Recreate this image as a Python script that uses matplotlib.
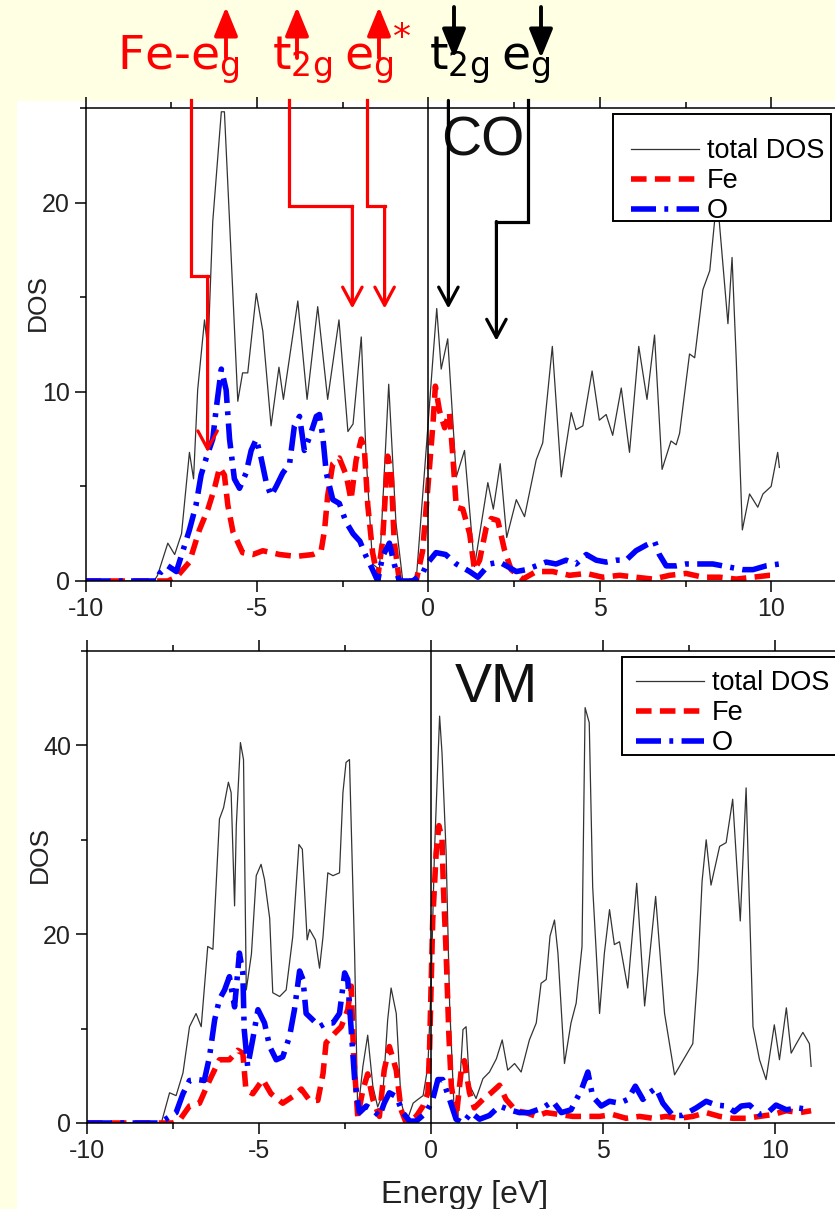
import matplotlib
matplotlib.use("Agg")
import matplotlib.pyplot as plt
from matplotlib.patches import Rectangle, FancyArrowPatch
from matplotlib.ticker import MultipleLocator

plt.rcParams["axes.unicode_minus"] = False

# ---- data: CO panel (energy in eV, DOS) ----
co_tot_e = [-10, -8.0, -7.9, -7.6, -7.4, -7.2, -6.97, -6.85, -6.73, -6.53, -6.43, -6.29, -6.04, -5.95,
            -5.8, -5.56, -5.42, -5.27, -5.02, -4.83, -4.59, -4.36, -4.23, -3.81, -3.54, -3.23, -2.94,
            -2.61, -2.35, -2.2, -1.96, -1.82, -1.63, -1.43, -1.16, -0.95, -0.75, -0.36, -0.07, 0.13,
            0.24, 0.37, 0.56, 0.81, 1.05, 1.34, 1.73, 1.89, 2.09, 2.28, 2.56, 2.8, 3.14, 3.33, 3.61,
            3.87, 4.16, 4.3, 4.5, 4.77, 4.98, 5.18, 5.37, 5.62, 5.86, 6.13, 6.37, 6.59, 6.81, 7.07,
            7.22, 7.32, 7.61, 7.76, 8.0, 8.2, 8.34, 8.44, 8.73, 8.85, 8.97, 9.15, 9.36, 9.6, 9.75,
            9.99, 10.18, 10.23]
co_tot = [0, 0, 0.3, 2.0, 1.4, 2.5, 6.8, 5.4, 10.1, 13.8, 12.2, 19.0, 24.8, 24.8,
          19.0, 9.5, 11.0, 11.0, 15.2, 13.2, 8.2, 11.3, 9.6, 14.8, 9.6, 14.5, 9.6,
          13.8, 7.9, 8.3, 12.9, 6.6, 0.9, 0.6, 10.4, 3.1, 0, 0, 6.9, 11.8,
          14.4, 11.2, 12.8, 5.5, 6.9, 0.76, 5.2, 3.8, 6.2, 2.3, 4.3, 3.4, 6.4, 7.3, 12.4,
          5.5, 8.9, 8.0, 8.2, 11.1, 8.5, 8.8, 7.7, 10.2, 6.8, 12.4, 9.6, 13.0, 5.9, 7.4,
          7.2, 7.8, 12.0, 11.8, 15.4, 16.4, 19.0, 19.8, 13.6, 17.1, 11.8, 2.7, 4.6, 3.9, 4.6,
          5.0, 6.8, 6.0]

co_fe_e = [-10, -7.6, -7.35, -6.97, -6.68, -6.43, -6.24, -6.09, -5.95, -5.85, -5.7, -5.42, -5.12,
           -4.83, -4.34, -3.86, -3.37, -3.13, -3.03, -2.94, -2.79, -2.6, -2.4, -2.26, -2.11, -1.96,
           -1.87, -1.77, -1.63, -1.48, -1.34, -1.19, -1.09, -1.0, -0.85, -0.36, -0.17, -0.02, 0.13,
           0.2, 0.32, 0.47, 0.61, 0.71, 0.81, 1.0, 1.2, 1.34, 1.49, 1.68, 1.83, 2.02, 2.22, 2.41,
           2.75, 3.14, 3.62, 4.11, 4.6, 5.08, 5.57, 6.05, 6.54, 7.03, 7.51, 8.0, 8.49, 8.97, 9.46,
           9.94, 10.1]
co_fe = [0, 0, 0.2, 1.0, 2.7, 3.8, 4.9, 6.0, 5.6, 4.0, 2.6, 1.5, 1.4,
         1.6, 1.4, 1.3, 1.4, 1.6, 2.7, 4.5, 6.2, 6.5, 5.6, 4.3, 6.4, 7.5,
         7.0, 4.0, 1.5, 0.2, 2.1, 6.6, 5.8, 2.1, 0.0, 0, 1.6, 4.9, 8.3,
         10.3, 9.0, 8.1, 8.9, 6.6, 3.9, 3.8, 2.5, 0.6, 1.1, 2.8, 3.3, 3.2, 1.6, 0.6,
         0.1, 0.5, 0.5, 0.3, 0.4, 0.2, 0.3, 0.2, 0.1, 0.3, 0.4, 0.2, 0.2, 0.1, 0.2,
         0.3, 0.3]

co_o_e = [-10, -7.9, -7.84, -7.6, -7.35, -7.16, -6.97, -6.78, -6.63, -6.48, -6.29, -6.19, -6.04,
          -5.9, -5.8, -5.66, -5.51, -5.32, -5.17, -5.02, -4.88, -4.73, -4.59, -4.44, -4.25, -4.05,
          -3.91, -3.76, -3.62, -3.47, -3.27, -3.18, -3.08, -2.98, -2.79, -2.6, -2.4, -2.2, -2.0,
          -1.82, -1.63, -1.48, -1.34, -1.14, -1.0, -0.85, -0.46, -0.17, -0.05, 0.22, 0.5, 0.81,
          1.2, 1.44, 1.78, 2.07, 2.27, 2.56, 2.85, 3.14, 3.43, 3.72, 4.01, 4.3, 4.6, 4.89, 5.18,
          5.47, 5.76, 6.05, 6.35, 6.59, 6.73, 6.93, 7.22, 7.51, 7.9, 8.29, 8.58, 8.87, 9.17, 9.46,
          9.84, 10.23]
co_o = [0, 0, 0.4, 0.8, 0.5, 1.6, 2.7, 4.0, 5.6, 6.5, 7.5, 9.1, 11.2,
        10.1, 7.5, 5.4, 4.9, 5.7, 6.9, 7.5, 6.5, 5.2, 4.5, 5.0, 5.7, 6.2,
        8.2, 8.7, 6.9, 7.6, 8.7, 8.8, 7.6, 5.7, 4.3, 4.1, 3.1, 2.5, 2.1,
        1.3, 0.6, 0, 1.3, 2.0, 0.9, 0, 0, 0.4, 0.9, 1.5, 1.4, 0.9,
        0.5, 0.2, 0.9, 1.0, 0.8, 0.5, 0.6, 0.8, 1.0, 0.9, 1.1, 0.9, 1.4, 1.1, 1.0,
        1.1, 1.1, 1.6, 1.9, 2.1, 1.4, 0.8, 0.8, 0.9, 0.9, 0.9, 0.8, 0.7, 0.6, 0.6,
        0.8, 0.9]

# ---- data: VM panel ----
vm_tot_e = [-10, -7.84, -7.6, -7.41, -7.21, -7.02, -6.83, -6.68, -6.49, -6.34, -6.15, -6.03, -5.89,
            -5.81, -5.71, -5.66, -5.54, -5.45, -5.37, -5.22, -5.08, -4.94, -4.84, -4.69, -4.6, -4.4,
            -4.21, -4.02, -3.84, -3.74, -3.6, -3.53, -3.36, -3.24, -3.14, -3.0, -2.85, -2.66, -2.56,
            -2.47, -2.37, -2.22, -2.13, -1.98, -1.84, -1.69, -1.55, -1.4, -1.26, -1.16, -1.01, -0.87,
            -0.72, -0.52, -0.38, -0.23, -0.09, 0.0, 0.1, 0.25, 0.32, 0.44, 0.54, 0.68, 0.78, 0.93,
            1.02, 1.12, 1.31, 1.51, 1.7, 1.9, 2.07, 2.23, 2.43, 2.62, 2.86, 3.06, 3.2, 3.35, 3.46,
            3.59, 3.69, 3.88, 4.07, 4.22, 4.39, 4.48, 4.6, 4.7, 4.9, 5.04, 5.19, 5.33, 5.48, 5.72,
            5.98, 6.21, 6.53, 6.79, 7.08, 7.32, 7.61, 7.76, 7.88, 8.0, 8.14, 8.39, 8.58, 8.77, 8.99,
            9.16, 9.36, 9.55, 9.74, 9.98, 10.13, 10.33, 10.47, 10.62, 10.81, 11.0, 11.05]
vm_tot = [0, 0, 3.2, 2.9, 5.3, 10.2, 11.6, 10.2, 18.7, 18.4, 32.2, 33.4, 36.1,
          35.0, 23.0, 31.5, 40.3, 38.5, 14.1, 17.9, 26.2, 27.4, 25.8, 21.7, 13.8, 13.4,
          14.1, 19.7, 29.5, 29.0, 19.4, 20.5, 19.4, 16.4, 19.7, 26.5, 26.2, 26.5, 35.0,
          38.2, 38.5, 17.9, 1.0, 6.0, 9.3, 3.9, 1.7, 3.1, 10.9, 14.3, 11.6, 2.3,
          0, 2.1, 2.5, 2.9, 6.0, 14.3, 28.6, 43.1, 39.2, 28.6, 12.7, 0.7, 0.7, 9.9,
          10.2, 4.0, 2.6, 4.7, 5.4, 6.8, 8.8, 5.6, 6.3, 5.4, 8.8, 10.6, 14.8, 15.2, 19.8,
          21.5, 18.0, 6.3, 10.6, 12.7, 18.7, 44.0, 42.4, 25.0, 11.6, 18.0, 22.6, 18.9, 19.2, 14.3,
          25.4, 12.4, 24.0, 11.6, 5.1, 6.6, 8.4, 16.2, 25.6, 30.0, 25.2, 29.3, 29.7, 34.3, 21.4,
          35.5, 10.2, 6.7, 4.6, 10.4, 6.7, 12.2, 7.4, 8.4, 9.6, 8.4, 6.0]

vm_fe_e = [-10, -7.5, -7.31, -7.02, -6.73, -6.44, -6.15, -5.86, -5.62, -5.47, -5.38, -5.18, -4.89,
           -4.65, -4.31, -4.02, -3.77, -3.53, -3.29, -3.14, -3.05, -2.8, -2.61, -2.42, -2.32, -2.25,
           -2.13, -1.98, -1.84, -1.69, -1.5, -1.36, -1.21, -1.01, -0.87, -0.72, -0.43, -0.23, -0.09,
           -0.04, 0.05, 0.15, 0.23, 0.32, 0.36, 0.44, 0.52, 0.59, 0.73, 0.88, 0.97, 1.12, 1.26, 1.51,
           1.75, 1.99, 2.18, 2.47, 2.76, 3.06, 3.35, 3.74, 4.12, 4.51, 4.9, 5.28, 5.67, 6.06, 6.45,
           6.84, 7.22, 7.61, 8.0, 8.39, 8.77, 9.16, 9.55, 9.94, 10.33, 10.72, 11.05]
vm_fe = [0, 0, 0.3, 1.8, 2.1, 4.5, 6.7, 6.7, 7.7, 7.4, 3.5, 3.1, 4.6,
         3.1, 2.1, 2.8, 3.6, 2.4, 2.4, 5.2, 8.5, 9.5, 10.2, 12.0, 14.5, 7.2,
         0.7, 3.5, 5.2, 2.5, 0.7, 5.6, 8.1, 5.6, 1.4, 0.0, 0.7, 1.8, 3.2,
         8.1, 21.5, 28.6, 31.5, 30.1, 25.0, 18.0, 9.3, 4.0, 0.5, 5.6, 6.6, 3.2, 1.6, 2.5,
         3.2, 4.0, 2.5, 1.3, 1.1, 0.7, 1.1, 0.9, 0.7, 0.7, 0.7, 0.9, 0.5, 0.7, 0.5,
         0.7, 0.5, 0.7, 1.1, 0.7, 0.5, 0.5, 0.7, 0.9, 1.3, 1.1, 1.3]

vm_o_e = [-10, -7.9, -7.8, -7.41, -7.21, -7.02, -6.78, -6.59, -6.44, -6.29, -6.15, -6.0, -5.86,
          -5.71, -5.57, -5.47, -5.43, -5.33, -5.18, -5.03, -4.84, -4.69, -4.5, -4.31, -4.11, -3.97,
          -3.82, -3.72, -3.63, -3.43, -3.24, -3.05, -2.85, -2.66, -2.51, -2.42, -2.32, -2.22, -2.08,
          -1.88, -1.69, -1.5, -1.36, -1.21, -1.01, -0.82, -0.62, -0.43, -0.14, 0.05, 0.2, 0.34,
          0.54, 0.73, 0.93, 1.17, 1.41, 1.7, 1.99, 2.28, 2.57, 2.86, 3.25, 3.54, 3.79, 4.07, 4.37,
          4.56, 4.7, 4.95, 5.19, 5.48, 5.72, 5.94, 6.16, 6.35, 6.54, 6.74, 7.03, 7.32, 7.71, 8.0,
          8.29, 8.58, 8.82, 9.02, 9.26, 9.55, 9.79, 10.03, 10.33, 10.66, 11.05]
vm_o = [0, 0, 0.2, 1.1, 3.1, 4.5, 4.6, 4.5, 7.0, 10.9, 13.1, 14.1, 15.5,
        12.3, 18.0, 15.9, 9.9, 6.0, 8.9, 12.0, 10.6, 8.1, 6.7, 7.0, 9.2, 12.0,
        16.1, 15.2, 11.6, 10.9, 10.2, 10.6, 10.6, 11.6, 15.9, 15.2, 9.9, 4.6, 1.1,
        1.8, 1.4, 0.7, 2.1, 3.2, 2.8, 1.1, 0.2, 0.2, 1.1, 2.5, 4.6, 4.6,
        2.5, 0.4, 0.0, 1.1, 0.4, 0.8, 1.8, 1.4, 1.1, 1.1, 1.6, 2.3, 1.1, 1.4, 3.5,
        5.4, 2.8, 1.8, 2.3, 2.1, 2.5, 3.9, 2.5, 3.2, 3.7, 2.1, 0.8, 0.8, 1.6, 2.3,
        1.9, 1.8, 1.2, 1.8, 1.9, 0.9, 1.1, 1.9, 1.4, 1.6, 1.4]

series_names = ["total DOS", "Fe", "O"]
panel_names = ["CO", "VM"]

W, H = 835, 1209
def fx(px):
    return px / W
def fy(py):
    return 1 - py / H

yellow = "#ffffe3"
fig = plt.figure(figsize=(W / 100, H / 100), dpi=100, facecolor=yellow)
fig.patches.append(Rectangle((fx(17), 0), 1, fy(101), transform=fig.transFigure,
                             facecolor="white", edgecolor="none", zorder=-10))

ax1 = fig.add_axes([fx(85.5), fy(581), 22.5 * 34.3 / W, (581 - 108) / H])
ax2 = fig.add_axes([fx(87), fy(1123), 22.5 * 34.4 / W, (1123 - 651) / H])

sans = "Liberation Sans"
# legend frame (left, top, right, bottom in px) and first row anchor (x, y in px)
panels = [
    (ax1, co_tot_e, co_tot, co_fe_e, co_fe, co_o_e, co_o, 25, 10, 5, (0.38, 22.5), 0.588,
     (613, 114, 831, 221), (631, 138)),
    (ax2, vm_tot_e, vm_tot, vm_fe_e, vm_fe, vm_o_e, vm_o, 50, 20, 10, (0.68, 44.6), 0.568,
     (622, 657, 840, 755), (636, 670)),
]
for i, (ax, te, tv, fe_e, fe_v, o_e, o_v, ytop, ymaj, ymin, lab_xy, ylab_y, box, anc) in enumerate(panels):
    ax.plot(te, tv, color="0.2", lw=0.9, label=series_names[0])
    ax.plot(fe_e, fe_v, color="#ff0000", lw=4, dashes=(2.8, 1.5), label=series_names[1])
    ax.plot(o_e, o_v, color="#0000ff", lw=4, dashes=(4.5, 1.5, 0.7, 1.5), label=series_names[2])
    ax.axvline(0, color="black", lw=1.1)
    ax.set_xlim(-10, 12.5)
    ax.set_ylim(0, ytop)
    ax.xaxis.set_major_locator(MultipleLocator(5))
    ax.xaxis.set_minor_locator(MultipleLocator(2.5))
    ax.yaxis.set_major_locator(MultipleLocator(ymaj))
    ax.yaxis.set_minor_locator(MultipleLocator(ymin))
    ax.tick_params(which="both", direction="out", top=True, right=False, width=1.1,
                   labelsize=18, colors="black", labelcolor="#222222")
    ax.tick_params(which="major", length=8)
    ax.tick_params(which="minor", length=4.5)
    for lab in ax.get_xticklabels() + ax.get_yticklabels():
        lab.set_family(sans)
    for s in ax.spines.values():
        s.set_linewidth(1.1)
    ax.set_ylabel("DOS", fontsize=19, family=sans, color="#222222")
    ax.yaxis.set_label_coords(-0.046, ylab_y)
    ax.text(lab_xy[0], lab_xy[1], panel_names[i], fontsize=40, family=sans, color="#111111",
            ha="left", va="baseline")
    # legend box
    l, t, r, b = box
    frame = Rectangle((fx(l), fy(b)), fx(r) - fx(l), fy(t) - fy(b), transform=fig.transFigure,
                      facecolor="white", edgecolor="black", lw=1.4, zorder=6, clip_on=False)
    ax.add_patch(frame)
    leg = ax.legend(loc="upper left", bbox_to_anchor=(fx(anc[0]), fy(anc[1])),
                    bbox_transform=fig.transFigure, borderaxespad=0, frameon=False,
                    handlelength=2.5, handletextpad=0.3, borderpad=0, labelspacing=0.15,
                    prop={"family": sans, "size": 19.5})
    leg.set_zorder(7)

fig.text(fx(465), fy(1195), "Energy [eV]", fontsize=23, family=sans, color="#222222",
         ha="center", va="center")

# ---- annotation arrows into the CO panel (data coordinates) ----
paths = [
    ("red", [(-6.91, 25.4), (-6.91, 16.1), (-6.44, 16.1)], (-6.44, 6.8)),
    ("red", [(-4.08, 25.4), (-4.08, 19.8), (-2.22, 19.8)], (-2.22, 14.4)),
    ("red", [(-1.78, 25.4), (-1.78, 19.8), (-1.28, 19.8)], (-1.28, 14.4)),
    ("black", [(0.58, 25.4)], (0.58, 14.4)),
    ("black", [(2.89, 25.4), (2.89, 19.0), (1.98, 19.0)], (1.98, 12.7)),
]
for col, pts, tip in paths:
    if len(pts) > 1:
        ax1.plot([p[0] for p in pts], [p[1] for p in pts], color=col, lw=2.3,
                 clip_on=False, solid_joinstyle="miter", zorder=5)
    ax1.annotate("", xy=tip, xytext=pts[-1], xycoords="data",
                 arrowprops=dict(arrowstyle="->,head_length=0.65,head_width=0.35", color=col,
                                 lw=2.3, shrinkA=0, shrinkB=0, mutation_scale=20),
                 annotation_clip=False, zorder=5)

# ---- orbital labels at the top ----
lab_font = "DejaVu Sans"
labels = [
    (117, r"Fe-e$_\mathregular{g}$", "red", 226, "up"),
    (272, r"t$_\mathregular{2g}$", "red", 297, "up"),
    (344, r"e$_\mathregular{g}$", "red", 379, "up"),
    (429, r"t$_\mathregular{2g}$", "black", 454, "down"),
    (501, r"e$_\mathregular{g}$", "black", 541, "down"),
]
for x0, txt, col, ax_x, d in labels:
    fig.text(fx(x0), fy(70), txt, fontsize=34, family=lab_font, color=col, va="baseline")
    if d == "up":
        a, b = fy(7), fy(58)
    else:
        a, b = fy(58), fy(7)
    fig.add_artist(FancyArrowPatch(
        (fx(ax_x), b), (fx(ax_x), a), transform=fig.transFigure,
        arrowstyle="-|>,head_length=1.1,head_width=0.45", mutation_scale=16,
        color=col, lw=2.8, shrinkA=0, shrinkB=0))
fig.text(fx(393), fy(48), "*", fontsize=26, family=lab_font, color="red", va="baseline")

fig.savefig("out.png", dpi=100, facecolor=yellow)
